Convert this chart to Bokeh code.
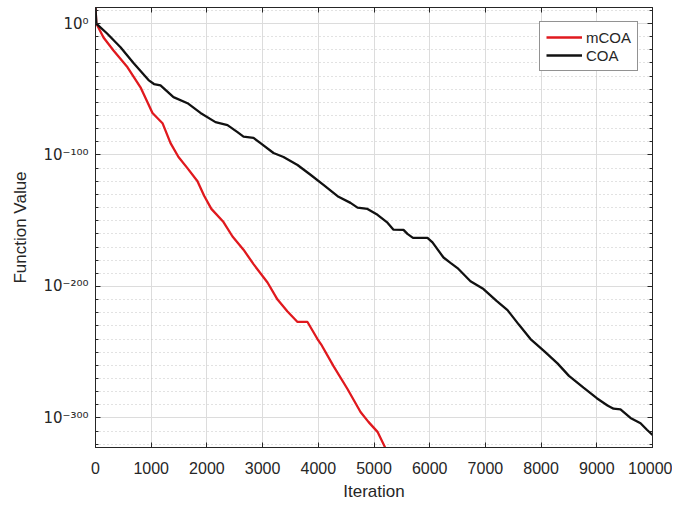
from bokeh.plotting import figure
from bokeh.models import FixedTicker, LinearAxis, Range1d, Legend, LegendItem, CustomJSTickFormatter
from bokeh.embed import file_html
from bokeh.resources import INLINE

# ---- data (log10 of function value vs iteration) ----
mcoa_iter = [0, 15, 144, 323, 575, 808, 1023, 1203, 1347, 1490, 1650, 1831, 1950, 2080, 2298,
             2460, 2657, 2837, 3088, 3268, 3447, 3627, 3806, 3985, 4050, 4273, 4524, 4758,
             4900, 5063, 5206]
mcoa_log10 = [12, 0, -10.6, -20.5, -33.3, -48.5, -68, -75.8, -91, -101.5, -110, -120, -131,
              -141, -151, -162, -172, -183, -197, -210, -219, -227, -227, -240, -244, -260.6,
              -278, -295.5, -303, -310.6, -323]

coa_iter = [0, 15, 208, 449, 682, 952, 1050, 1167, 1400, 1652, 1885, 2154, 2370, 2549, 2657,
            2837, 2962, 3196, 3375, 3627, 3860, 4093, 4363, 4578, 4704, 4883, 5063, 5242,
            5350, 5530, 5600, 5700, 5960, 6050, 6248, 6373, 6499, 6732, 6966, 7200, 7397,
            7600, 7810, 8050, 8294, 8500, 8761, 9000, 9192, 9300, 9425, 9605, 9785, 9900, 10000]
coa_log10 = [12, 0, -7.6, -18, -30, -43, -46, -47, -56, -60.6, -68, -75, -77.3, -82.6, -86,
             -87, -91, -98.5, -101.5, -107.6, -115, -122.7, -131.8, -136.4, -140, -141, -145.5,
             -151.5, -156.8, -157, -160, -163, -163, -166.5, -178, -182, -186, -196, -202,
             -211, -218, -229, -240, -249, -258.5, -268, -277, -285, -290.5, -293, -293.5,
             -300, -304, -309, -313]

x_ticks = list(range(0, 10001, 1000))
y_ticks = [-300, -200, -100, 0]
y_tick_labels = ["10\u207b\u00b3\u2070\u2070", "10\u207b\u00b2\u2070\u2070",
                 "10\u207b\u00b9\u2070\u2070", "10\u2070"]
y_minor = list(range(-320, 11, 10))

FONT = "Liberation Sans"
TXT = "#262626"

p = figure(frame_width=557, frame_height=440,
           x_range=Range1d(0, 10000), y_range=Range1d(-322.5, 12.2),
           output_backend="svg", toolbar_location=None,
           min_border_left=95, min_border_right=20, min_border_top=7, min_border_bottom=0,
           background_fill_color="white", border_fill_color="white")

p.outline_line_color = TXT
p.outline_line_width = 1

r1 = p.line(mcoa_iter, mcoa_log10, line_color="#e0191e", line_width=2.3)
r2 = p.line(coa_iter, coa_log10, line_color="#111111", line_width=2.3)

# axes
xt = FixedTicker(ticks=x_ticks)
yt = FixedTicker(ticks=y_ticks, minor_ticks=y_minor)
p.xaxis.ticker = xt
p.yaxis.ticker = yt
p.yaxis.major_label_overrides = {t: l for t, l in zip(y_ticks, y_tick_labels)}

for ax in (p.xaxis[0], p.yaxis[0]):
    ax.major_tick_in = 5
    ax.major_tick_out = 0
    ax.minor_tick_in = 3
    ax.minor_tick_out = 0
    ax.axis_line_color = TXT
    ax.major_tick_line_color = TXT
    ax.minor_tick_line_color = TXT
    ax.major_label_text_font = FONT
    ax.major_label_text_font_size = "16px"
    ax.major_label_text_color = TXT
    ax.axis_label_text_font = FONT
    ax.axis_label_text_font_size = "17px"
    ax.axis_label_text_font_style = "normal"
    ax.axis_label_text_color = TXT

p.xaxis.minor_tick_line_color = None
p.xaxis.axis_label = "Iteration"
p.yaxis.axis_label = "Function Value"
p.xaxis.major_label_standoff = 14
p.xaxis.axis_label_standoff = 5
p.yaxis.major_label_standoff = 7
p.yaxis.major_label_text_font = "DejaVu Sans"
p.yaxis.major_label_text_font_size = "15px"
p.yaxis.axis_label_standoff = 10

blank = CustomJSTickFormatter(code="return ''")
top_ax = LinearAxis(ticker=FixedTicker(ticks=x_ticks), formatter=blank,
                    major_tick_in=5, major_tick_out=0, minor_tick_line_color=None,
                    major_label_text_font_size="1px", major_label_standoff=0,
                    axis_line_color=TXT, major_tick_line_color=TXT)
right_ax = LinearAxis(ticker=FixedTicker(ticks=y_ticks, minor_ticks=y_minor), formatter=blank,
                      major_tick_in=5, major_tick_out=0, minor_tick_in=3, minor_tick_out=0,
                      major_label_text_font_size="1px", major_label_standoff=0,
                      axis_line_color=TXT, major_tick_line_color=TXT, minor_tick_line_color=TXT)
p.add_layout(top_ax, "above")
p.add_layout(right_ax, "right")

# grids
p.xgrid.ticker = xt
p.xgrid.grid_line_color = "#dcdcdc"
p.ygrid.ticker = yt
p.ygrid.grid_line_color = "#dcdcdc"
p.ygrid.minor_grid_line_color = "#c4c4c4"
p.ygrid.minor_grid_line_dash = "1 3"

legend = Legend(items=[LegendItem(label="mCOA", renderers=[r1]),
                       LegendItem(label="COA", renderers=[r2])],
                location="top_right", margin=14, padding=6, spacing=0,
                glyph_width=36, glyph_height=18, label_height=18, label_standoff=4,
                label_text_font=FONT, label_text_font_size="15px", label_text_color=TXT,
                border_line_color=TXT, border_line_width=1, background_fill_alpha=1)
p.add_layout(legend)

open("out.html", "w").write(file_html(p, INLINE))
